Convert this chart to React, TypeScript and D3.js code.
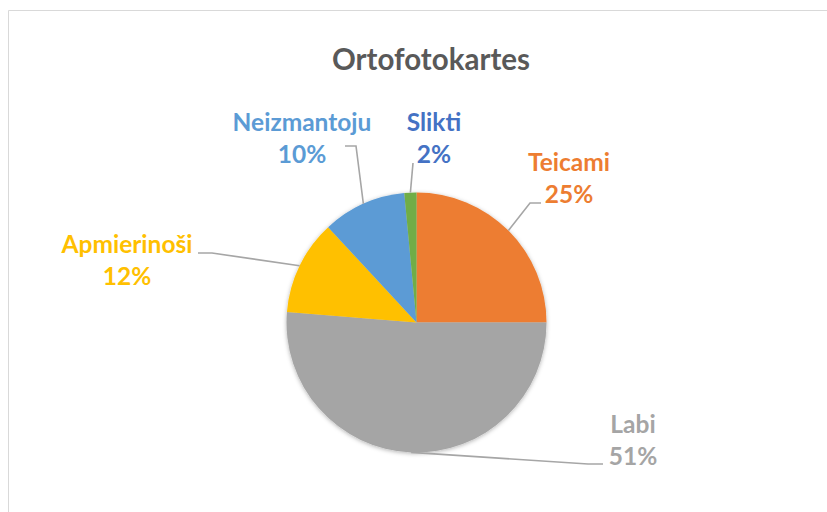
import React from "react";
import * as d3 from "d3";

const categories = ["Teicami", "Labi", "Apmierinoši", "Neizmantoju", "Slikti"];
const values = [25.0, 51.3, 11.8, 10.4, 1.5];
const percentLabels = ["25%", "51%", "12%", "10%", "2%"];
const sliceColors = ["#ED7D31", "#A5A5A5", "#FFC000", "#5B9BD5", "#70AD47"];
const labelColors = ["#ED7D31", "#A5A5A5", "#FFC000", "#5B9BD5", "#4472C4"];
const title = "Ortofotokartes";

// label layout: text center x, first-line baseline y, leader anchor points near label
const labelLayout = [
  { x: 569, y: 171, lead: [[541, 203], [530, 203]] },
  { x: 633, y: 433, lead: [[603, 464], [588, 464]] },
  { x: 127, y: 253, lead: [[198, 253], [212, 253]] },
  { x: 302, y: 131, lead: [[345, 146], [356, 146]] },
  { x: 434, y: 131, lead: [[413, 163]] },
];

const W = 827;
const H = 512;
const cx = 416.5;
const cy = 322.5;
const R = 130;
const FONT = "Lato, 'Open Sans', sans-serif";

export default function App() {
  const pie = d3
    .pie<number>()
    .sort(null)
    .value((d) => d)
    .startAngle(0)
    .endAngle(2 * Math.PI);
  const arcs = pie(values);
  const arc = d3.arc<d3.PieArcDatum<number>>().innerRadius(0).outerRadius(R);
  const line = d3.line();

  return (
    <svg
      width={W}
      height={H}
      style={{ position: "absolute", left: 0, top: 0, background: "#fff" }}
    >
      <defs>
        <filter id="sh" x="-20%" y="-20%" width="140%" height="140%">
          <feDropShadow dx="0" dy="1" stdDeviation="2" floodColor="#000" floodOpacity="0.3" />
        </filter>
      </defs>
      <rect x={0} y={0} width={W} height={H} fill="#fff" />
      <path d={`M8.5,${H} L8.5,10.5 L${W},10.5`} fill="none" stroke="#D9D9D9" strokeWidth={1} />
      <text
        x={431}
        y={70}
        textAnchor="middle"
        fontFamily={FONT}
        fontWeight={700}
        fontSize={29.5}
        fill="#595959"
      >
        {title}
      </text>
      <g transform={`translate(${cx},${cy})`} filter="url(#sh)">
        {arcs.map((a, i) => (
          <path key={i} d={arc(a) || ""} fill={sliceColors[i]} />
        ))}
      </g>
      {arcs.map((a, i) => {
        const mid = (a.startAngle + a.endAngle) / 2;
        const px = cx + R * Math.sin(mid);
        const py = cy - R * Math.cos(mid);
        const pts: [number, number][] = [
          ...(labelLayout[i].lead as [number, number][]),
          [px, py],
        ];
        return (
          <path
            key={"l" + i}
            d={line(pts) || ""}
            fill="none"
            stroke="#A6A6A6"
            strokeWidth={1.6}
          />
        );
      })}
      {categories.map((c, i) => (
        <text
          key={"t" + i}
          textAnchor="middle"
          fontFamily={FONT}
          fontWeight={700}
          fontSize={24.5}
          fill={labelColors[i]}
        >
          <tspan x={labelLayout[i].x} y={labelLayout[i].y}>
            {c}
          </tspan>
          <tspan x={labelLayout[i].x} y={labelLayout[i].y + 32}>
            {percentLabels[i]}
          </tspan>
        </text>
      ))}
    </svg>
  );
}
